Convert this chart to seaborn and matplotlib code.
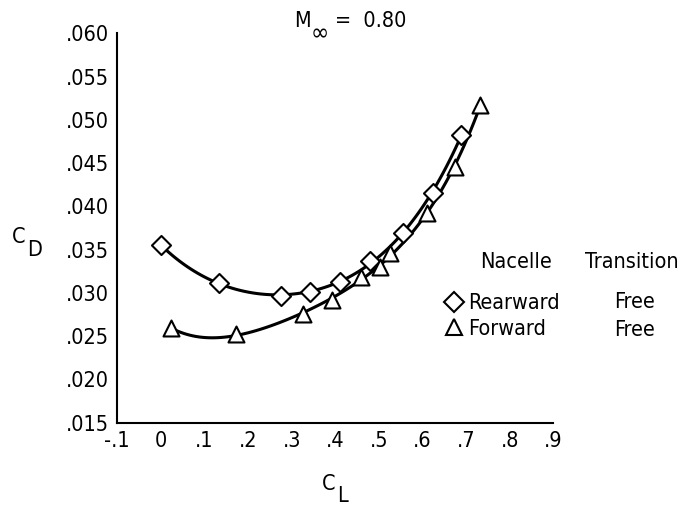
import numpy as np
import pandas as pd
import matplotlib
matplotlib.use("Agg")
import matplotlib.pyplot as plt
from matplotlib.lines import Line2D
import seaborn as sns

# ---- data ----
rear_cl = [0.000, 0.134, 0.275, 0.342, 0.410, 0.479, 0.556, 0.624, 0.689]
rear_cd = [0.0355, 0.0312, 0.0296, 0.0301, 0.0313, 0.0337, 0.0369, 0.0416, 0.0483]

fwd_cl = [0.024, 0.172, 0.327, 0.393, 0.460, 0.502, 0.525, 0.611, 0.674, 0.732]
fwd_cd = [0.0259, 0.0252, 0.0276, 0.0292, 0.0318, 0.0330, 0.0346, 0.0392, 0.0445, 0.0517]

xticks = [-0.1, 0.0, 0.1, 0.2, 0.3, 0.4, 0.5, 0.6, 0.7, 0.8, 0.9]
xtick_labels = ["-.1", "0", ".1", ".2", ".3", ".4", ".5", ".6", ".7", ".8", ".9"]
yticks = [0.015, 0.020, 0.025, 0.030, 0.035, 0.040, 0.045, 0.050, 0.055, 0.060]
ytick_labels = [".015", ".020", ".025", ".030", ".035", ".040", ".045", ".050", ".055", ".060"]

series_names = ["Rearward", "Forward"]
transition = ["Free", "Free"]

# ---- style ----
sns.set_theme(style="white")
plt.rcParams["font.family"] = ["DejaVu Sans"]
plt.rcParams["font.stretch"] = "condensed"
plt.rcParams["text.color"] = "black"
plt.rcParams["axes.labelcolor"] = "black"
plt.rcParams["xtick.color"] = "black"
plt.rcParams["ytick.color"] = "black"
FS = 15.5

fig = plt.figure(figsize=(6.87, 5.07), dpi=100)
ax = fig.add_axes([0.1707, 0.1663, 0.6347, 0.768])

df_rear = pd.DataFrame({"CL": rear_cl, "CD": rear_cd})
df_fwd = pd.DataFrame({"CL": fwd_cl, "CD": fwd_cd})

line_kw = dict(color="black", lw=2.2, solid_capstyle="round")
sns.regplot(data=df_rear, x="CL", y="CD", order=4, ci=None, scatter=False,
            line_kws=line_kw, ax=ax)
sns.regplot(data=df_fwd, x="CL", y="CD", order=4, ci=None, scatter=False,
            line_kws=line_kw, ax=ax)

sns.scatterplot(data=df_rear, x="CL", y="CD", marker="D", s=94, color="white",
                edgecolor="black", linewidth=1.5, zorder=4, ax=ax, clip_on=False)
sns.scatterplot(data=df_fwd, x="CL", y="CD", marker="^", s=132, color="white",
                edgecolor="black", linewidth=1.5, zorder=4, ax=ax, clip_on=False)

ax.set_xlim(-0.1, 0.9)
ax.set_ylim(0.015, 0.060)
ax.set_xticks(xticks)
ax.set_xticklabels(xtick_labels)
ax.set_yticks(yticks)
ax.set_yticklabels(ytick_labels)
ax.set_xlabel("")
ax.set_ylabel("")
ax.tick_params(axis="both", direction="in", length=9.5, width=1.1, colors="black",
               labelsize=FS)
ax.tick_params(axis="x", pad=6.0)
ax.tick_params(axis="y", pad=6.0)
for s in ["top", "right"]:
    ax.spines[s].set_visible(False)
for s in ["left", "bottom"]:
    ax.spines[s].set_linewidth(1.5)
    ax.spines[s].set_color("black")
ax.grid(False)

def fx(px):
    return px / 687.0

def fy(py):
    return 1 - py / 507.0

# title  M_inf = 0.80
fig.text(fx(294), fy(27), "M", fontsize=FS, ha="left", va="baseline")
fig.text(fx(311), fy(40), "\u221e", fontsize=FS + 2, ha="left", va="baseline")
fig.text(fx(335), fy(27), "=  0.80", fontsize=FS, ha="left", va="baseline")

# axis labels
fig.text(fx(322), fy(490), "C", fontsize=FS, ha="left", va="baseline")
fig.text(fx(337), fy(502), "L", fontsize=FS, ha="left", va="baseline")
fig.text(fx(12), fy(243), "C", fontsize=FS, ha="left", va="baseline")
fig.text(fx(27), fy(256), "D", fontsize=FS, ha="left", va="baseline")

# legend
handles = [
    Line2D([], [], ls="none", marker="D", ms=9.7, mfc="white", mec="black", mew=1.5),
    Line2D([], [], ls="none", marker="^", ms=11.5, mfc="white", mec="black", mew=1.5),
]
leg = ax.legend(handles, series_names, loc="center left",
                bbox_to_anchor=(fx(443.6), fy(316)), bbox_transform=fig.transFigure,
                frameon=False, fontsize=FS, handlelength=1.0, handletextpad=0.12,
                labelspacing=0.25, borderpad=0, borderaxespad=0)

fig.text(fx(516), fy(262), "Nacelle", fontsize=FS, ha="center", va="center")
fig.text(fx(632), fy(262), "Transition", fontsize=FS, ha="center", va="center")
fig.text(fx(634), fy(302), transition[0], fontsize=FS, ha="center", va="center")
fig.text(fx(634), fy(330), transition[1], fontsize=FS, ha="center", va="center")

fig.savefig("out.png", dpi=100, facecolor="white")
